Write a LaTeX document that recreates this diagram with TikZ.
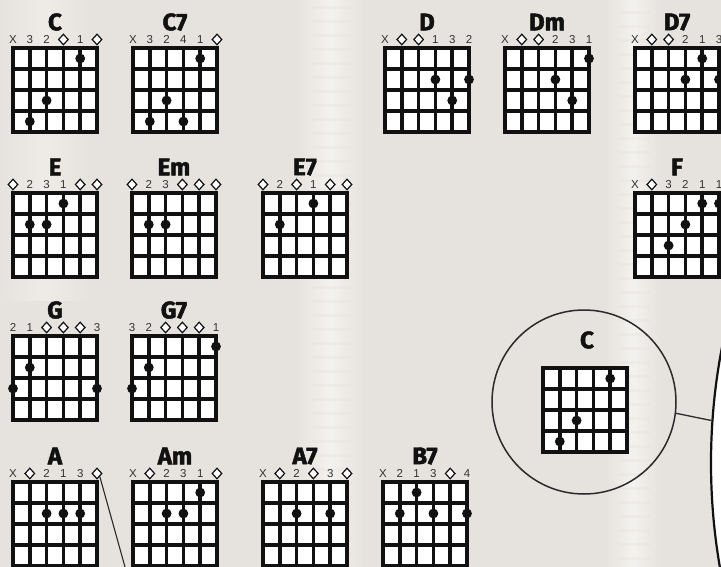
\documentclass[tikz,border=0pt]{standalone}
\usepackage{fontspec}
\setmainfont{Liberation Sans}
\newfontfamily\namefont{Fira Sans}[BoldFeatures={FakeBold=2}]
\usetikzlibrary{shapes.geometric}
\definecolor{bg}{HTML}{E6E2DE}
\definecolor{stripe}{HTML}{F4F2EE}
\definecolor{ink}{HTML}{111111}
\definecolor{numc}{HTML}{333333}
\definecolor{lensc}{HTML}{2A2A2A}

\tikzset{
  gridline/.style={line width=3.6pt, draw=ink, line cap=rect},
  chordname/.style={font=\namefont\bfseries\fontsize{24}{24}\selectfont, inner sep=0pt, text=ink},
  fingnum/.style={font=\fontsize{11.5}{11.5}\selectfont, text=numc, inner sep=0pt},
  opendia/.style={diamond, draw=ink, fill=white, line width=1.2pt, inner sep=0pt,
                  minimum width=10pt, minimum height=11pt},
  fdot/.style={fill=ink},
  lens/.style={circle, draw=lensc, line width=1.5pt, inner sep=0pt},
  bigview/.style={circle, draw=ink, fill=white, line width=2.2pt, inner sep=0pt},
  connector/.style={draw=lensc, line width=1.3pt},
}

% grid + dots: x, y (grid top-left), dots (string/row)
\newcommand\gridbase[3]{%
  \begin{scope}[shift={(#1,#2)}]
    \fill[white] (0,0) rectangle (84,84);
    \foreach \i in {0,...,5} \draw[gridline] (\i*16.8,0) -- (\i*16.8,84);
    \foreach \j in {0,...,4} \draw[gridline] (0,\j*21) -- (84,\j*21);
    \foreach \s/\r in {#3} \fill[fdot] (\s*16.8,\r*21-10.5) circle (4.9);
  \end{scope}}

% id, x, y, name, numbers (string/text), diamonds (string), dots (string/row)
\newcommand\chordgrid[7]{%
  \gridbase{#2}{#3}{#7}%
  \begin{scope}[shift={(#2,#3)}]
    \node[chordname] (#1-name) at (42,-26) {#4};
    \foreach \s/\t in {#5} \node[fingnum] (#1-n\s) at (\s*16.8,-8.5) {\t};
    \foreach \s in {#6} \node[opendia] (#1-d\s) at (\s*16.8,-8.5) {};
  \end{scope}}

\begin{document}
\begin{tikzpicture}[x=1pt,y=-1pt]
\useasboundingbox (0,0) rectangle (721,567);
\clip (0,0) rectangle (721,567);
\fill[bg] (0,0) rectangle (721,567);

% light vertical bands of the backdrop
\shade[left color=bg, right color=bg, middle color=stripe] (296,0) rectangle (364,567);
\shade[left color=bg, right color=bg, middle color=stripe] (606,0) rectangle (660,567);
\shade[left color=bg, right color=bg, middle color=stripe!60!bg] (0,0) rectangle (90,300);
\foreach \yy in {6,20,...,567} {
  \fill[bg, opacity=0.35] (312,\yy) rectangle (352,\yy+3);
  \fill[bg, opacity=0.35] (618,\yy+5) rectangle (650,\yy+8);
}

% row 1
\chordgrid{C}{13}{48}{C}{0/X,1/3,2/2,4/1}{3,5}{4/1,2/3,1/4}
\chordgrid{C7}{133}{48}{C7}{0/X,1/3,2/2,3/4,4/1}{5}{4/1,2/3,1/4,3/4}
\chordgrid{D}{385}{48}{D}{0/X,3/1,4/3,5/2}{1,2}{3/2,5/2,4/3}
\chordgrid{Dm}{505}{48}{Dm}{0/X,3/2,4/3,5/1}{1,2}{5/1,3/2,4/3}
\chordgrid{D7}{635}{48}{D7}{0/X,3/2,4/1,5/3}{1,2}{4/1,3/2,5/2}

% row 2
\chordgrid{E}{13}{193}{E}{1/2,2/3,3/1}{0,4,5}{3/1,1/2,2/2}
\chordgrid{Em}{132}{193}{Em}{1/2,2/3}{0,3,4,5}{1/2,2/2}
\chordgrid{E7}{263}{193}{E7}{1/2,3/1}{0,2,4,5}{3/1,1/2}
\chordgrid{F}{635}{193}{F}{0/X,2/3,3/2,4/1,5/1}{1}{4/1,5/1,3/2,2/3}

% row 3
\chordgrid{G}{13}{336}{G}{0/2,1/1,5/3}{2,3,4}{1/2,0/3,5/3}
\chordgrid{G7}{132}{336}{G7}{0/3,1/2,5/1}{2,3,4}{5/1,1/2,0/3}

% row 4
\chordgrid{A}{13}{482}{A}{0/X,2/2,3/1,4/3}{1,5}{2/2,3/2,4/2}
\chordgrid{Am}{133}{482}{Am}{0/X,2/2,3/3,4/1}{1,5}{4/1,2/2,3/2}
\chordgrid{A7}{263}{482}{A7}{0/X,2/2,4/3}{1,3,5}{2/2,4/2}
\chordgrid{B7}{383}{482}{B7}{0/X,1/2,2/1,3/3,5/4}{4}{2/1,1/2,3/2,5/2}

% magnified C
\node[lens, minimum size=184pt] (mag) at (584,402) {};
\gridbase{543}{368}{4/1,2/3,1/4}
\node[chordname] (magC-name) at (587,340) {C};

% large view at the right edge
\node[bigview, minimum size=1216pt] (big) at (1319,463) {};
\draw[connector] (mag.-7) -- (big.176);

% pointer from the A chord
\coordinate (Aend) at (125,567);
\draw[connector, line width=1.1pt] (A-d5.south east) -- (Aend);
\end{tikzpicture}
\end{document}
